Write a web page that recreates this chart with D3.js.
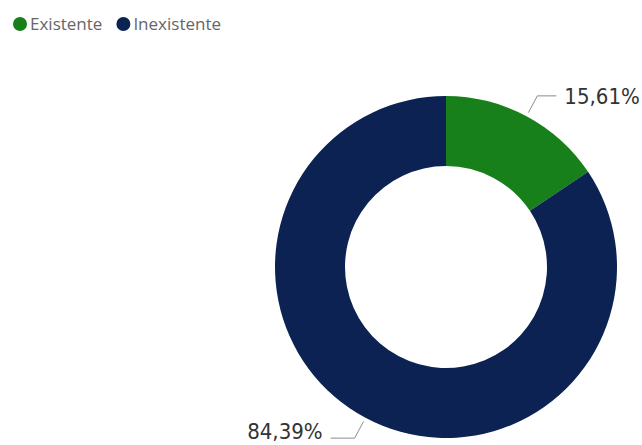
<!DOCTYPE html>
<html>
<head>
<meta charset="utf-8">
<script src="https://cdn.jsdelivr.net/npm/d3@7/dist/d3.min.js"></script>
<style>
  html, body { margin: 0; padding: 0; background: #fff; }
  svg { display: block; }
</style>
</head>
<body>
<svg id="chart" width="642" height="445"></svg>
<script>
// Share of records by status
const categories = ["Existente", "Inexistente"];
const values = [15.61, 84.39];
const colors = ["#17801a", "#0b2252"];

const width = 642, height = 445;
const cx = 446, cy = 267;
const outerR = 171, innerR = 101;

const svg = d3.select("#chart");

const color = d3.scaleOrdinal().domain(categories).range(colors);

const data = categories.map((c, i) => ({ category: c, value: values[i] }));

const pie = d3.pie().sort(null).value(d => d.value);
const arc = d3.arc().innerRadius(innerR).outerRadius(outerR);
const arcs = pie(data);

const g = svg.append("g").attr("transform", `translate(${cx},${cy})`);

g.selectAll("path.slice")
  .data(arcs)
  .join("path")
  .attr("class", "slice")
  .attr("d", arc)
  .attr("fill", d => color(d.data.category));

// Leader lines and value labels
const startArc = d3.arc().innerRadius(outerR + 4).outerRadius(outerR + 4);
const bendArc = d3.arc().innerRadius(outerR + 23).outerRadius(outerR + 23);
const fmt = v => v.toFixed(2).replace(".", ",") + "%";
const labelSize = 22;

arcs.forEach(d => {
  const mid = (d.startAngle + d.endAngle) / 2;
  const right = Math.sin(mid) >= 0;
  const p0 = startArc.centroid(d);
  const p1 = bendArc.centroid(d);
  const p2 = [p1[0] + (right ? 19 : -24), p1[1]];
  g.append("polyline")
    .attr("points", [p0, p1, p2].map(p => p.join(",")).join(" "))
    .attr("fill", "none")
    .attr("stroke", "#8c8c8c")
    .attr("stroke-width", 1);
  // keep the whole label (descent included) inside the drawing area
  const baseline = Math.min(p2[1] + labelSize * 0.36, height - cy - labelSize * 0.27);
  g.append("text")
    .attr("x", p2[0] + (right ? 8 : -8))
    .attr("y", baseline)
    .attr("text-anchor", right ? "start" : "end")
    .attr("font-family", "'DejaVu Sans Condensed', 'Liberation Sans Narrow', Roboto, sans-serif")
    .attr("font-size", labelSize)
    .attr("fill", "#333333")
    .text(fmt(d.data.value));
});

// Legend
const legend = svg.append("g").attr("transform", "translate(20,24)");
let lx = 0;
categories.forEach(c => {
  const item = legend.append("g").attr("transform", `translate(${lx},0)`);
  item.append("circle").attr("r", 7).attr("fill", color(c));
  const t = item.append("text")
    .attr("x", 10)
    .attr("dy", "0.35em")
    .attr("font-family", "'Open Sans', 'Noto Sans', sans-serif")
    .attr("font-size", 17)
    .attr("fill", "#666666")
    .text(c);
  lx += 10 + t.node().getComputedTextLength() + 21;
});
</script>
</body>
</html>
